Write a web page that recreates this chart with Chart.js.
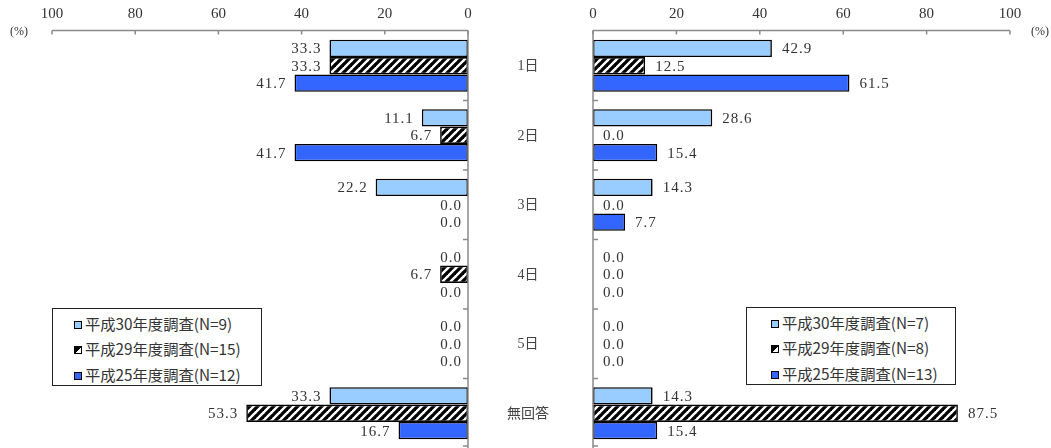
<!DOCTYPE html>
<html>
<head>
<meta charset="utf-8">
<script src="https://cdn.jsdelivr.net/npm/chart.js@4.4.1/dist/chart.umd.min.js"></script>
<style>
  html, body { margin: 0; padding: 0; background: #fff; }
  #wrap { position: relative; width: 1051px; height: 448px; overflow: hidden; }
  canvas { position: absolute; top: 0; }
  #cL { left: 0; }
  #cR { left: 480px; }
  .legend { position: absolute; background: #fff; border: 1px solid #222; box-sizing: border-box;
            font-family: "Noto Sans CJK JP", sans-serif; font-size: 15.3px; color: #333; }
  .legend .row { position: absolute; height: 20px; line-height: 20px; white-space: nowrap; }
  .legend .mk { display: inline-block; width: 6px; height: 6px; border: 1.5px solid #000; margin-right: 3px; vertical-align: 1px; }
</style>
</head>
<body>
<div id="wrap">
  <canvas id="cL" width="480" height="448"></canvas>
  <canvas id="cR" width="571" height="448"></canvas>
  <div class="legend" id="legL" style="left:52px; top:308px; width:210px; height:78px;"></div>
  <div class="legend" id="legR" style="left:746px; top:307px; width:210px; height:78px;"></div>
</div>
<script>
// ---- data ----
const categories = ["1日", "2日", "3日", "4日", "5日", "無回答"];
const xTicks = [0, 20, 40, 60, 80, 100];

const leftSeriesNames = ["平成30年度調査(N=9)", "平成29年度調査(N=15)", "平成25年度調査(N=12)"];
const leftH30 = [33.3, 11.1, 22.2, 0.0, 0.0, 33.3];
const leftH29 = [33.3, 6.7, 0.0, 6.7, 0.0, 53.3];
const leftH25 = [41.7, 41.7, 0.0, 0.0, 0.0, 16.7];

const rightSeriesNames = ["平成30年度調査(N=7)", "平成29年度調査(N=8)", "平成25年度調査(N=13)"];
const rightH30 = [42.9, 28.6, 14.3, 0.0, 0.0, 14.3];
const rightH29 = [12.5, 0.0, 0.0, 0.0, 0.0, 87.5];
const rightH25 = [61.5, 15.4, 7.7, 0.0, 0.0, 15.4];

// ---- styles ----
const LIGHT = "#99CCFF";
const BLUE = "#3366FF";
const SERIF = '"Liberation Serif", "DejaVu Serif", serif';
const TEXT = "#333";

function hatch() {
  const c = document.createElement("canvas");
  c.width = 8; c.height = 8;
  const g = c.getContext("2d");
  g.fillStyle = "#fff"; g.fillRect(0, 0, 8, 8);
  g.strokeStyle = "#000"; g.lineWidth = 3.3;
  for (let k = -1; k <= 1; k++) {
    g.beginPath(); g.moveTo(k * 8 - 1, 9); g.lineTo(k * 8 + 9, -1); g.stroke();
  }
  return g.createPattern(c, "repeat");
}

function datasets(names, a, b, c, pat) {
  const common = { borderColor: "#000", borderWidth: 1.6, borderSkipped: false,
                   categoryPercentage: 0.75, barPercentage: 1.0 };
  return [
    Object.assign({ label: names[0], data: a, backgroundColor: LIGHT }, common),
    Object.assign({ label: names[1], data: b, backgroundColor: pat }, common),
    Object.assign({ label: names[2], data: c, backgroundColor: BLUE }, common)
  ];
}

const axisPlugin = {
  id: "axisPlugin",
  afterDatasetsDraw(chart, args, opts) {
    const ctx = chart.ctx;
    const xs = chart.scales.x, ys = chart.scales.y;
    const ca = chart.chartArea;
    const top = ca.top - 0.5;
    ctx.save();
    ctx.strokeStyle = "#8a8a8a";
    ctx.lineWidth = 1.5;
    // horizontal axis line
    ctx.beginPath();
    ctx.moveTo(xs.getPixelForValue(0), top);
    ctx.lineTo(xs.getPixelForValue(100), top);
    ctx.stroke();
    // tick marks (downward)
    xTicks.forEach(v => {
      const x = xs.getPixelForValue(v);
      ctx.beginPath(); ctx.moveTo(x, top); ctx.lineTo(x, top + 4); ctx.stroke();
    });
    // vertical axis at zero
    const x0 = xs.getPixelForValue(0);
    ctx.beginPath(); ctx.moveTo(x0, top); ctx.lineTo(x0, ca.bottom); ctx.stroke();
    // category boundary ticks (inward)
    const dir = opts.side === "left" ? -1 : 1;
    for (let i = 1; i <= categories.length; i++) {
      const y = i < categories.length
        ? (ys.getPixelForValue(i - 1) + ys.getPixelForValue(i)) / 2
        : ca.bottom - 2;
      ctx.beginPath(); ctx.moveTo(x0, y); ctx.lineTo(x0 + dir * 5, y); ctx.stroke();
    }
    // value labels
    ctx.fillStyle = TEXT;
    ctx.font = "15px " + SERIF;
    ctx.letterSpacing = "1px";
    ctx.textBaseline = "middle";
    chart.data.datasets.forEach((ds, di) => {
      const meta = chart.getDatasetMeta(di);
      meta.data.forEach((el, j) => {
        const txt = Number(ds.data[j]).toFixed(1);
        if (opts.side === "left") {
          ctx.textAlign = "right";
          ctx.fillText(txt, el.x - (ds.data[j] === 0 ? 6 : 8), el.y + 1);
        } else {
          ctx.textAlign = "left";
          ctx.fillText(txt, el.x + 10, el.y + 1);
        }
      });
    });
    ctx.letterSpacing = "0px";
    // category labels (right chart, between the two charts)
    if (opts.side === "right") {
      ctx.font = '14px "Liberation Serif", "Noto Sans CJK JP", serif';
      ctx.fillStyle = "#444";
      ctx.textAlign = "center";
      categories.forEach((c, i) => {
        ctx.fillText(c, 528 - 480, ys.getPixelForValue(i) + 1);
      });
    }
    // (%) unit label
    ctx.fillStyle = TEXT;
    ctx.font = "12px " + SERIF;
    ctx.textAlign = "center";
    if (opts.side === "left") ctx.fillText("(%)", 19, 32);
    else ctx.fillText("(%)", 1040 - 480, 32);
    ctx.restore();
  }
};

function xScale(reverse) {
  return {
    type: "linear", min: 0, max: 100, reverse: reverse, position: "top",
    ticks: { stepSize: 20, color: TEXT, font: { family: SERIF, size: 15 }, padding: 8 },
    grid: { display: false, drawTicks: false },
    border: { display: false },
    afterFit: s => { s.height = 31; }
  };
}

const pat = hatch();

new Chart(document.getElementById("cL"), {
  type: "bar",
  data: { labels: categories, datasets: datasets(leftSeriesNames, leftH30, leftH29, leftH25, pat) },
  options: {
    responsive: false, animation: false, indexAxis: "y",
    layout: { padding: { left: 52, right: 0, top: 0, bottom: 0 } },
    plugins: { legend: { display: false }, tooltip: { enabled: false }, axisPlugin: { side: "left" } },
    scales: {
      x: xScale(true),
      y: {
        type: "category", position: "right",
        ticks: { display: false },
        grid: { display: false, drawTicks: false },
        border: { display: false },
        afterFit: s => { s.width = 12; }
      }
    }
  },
  plugins: [axisPlugin]
});

new Chart(document.getElementById("cR"), {
  type: "bar",
  data: { labels: categories, datasets: datasets(rightSeriesNames, rightH30, rightH29, rightH25, pat) },
  options: {
    responsive: false, animation: false, indexAxis: "y",
    layout: { padding: { left: 0, right: 41, top: 0, bottom: 0 } },
    plugins: { legend: { display: false }, tooltip: { enabled: false }, axisPlugin: { side: "right" } },
    scales: {
      x: xScale(false),
      y: {
        type: "category", position: "left",
        ticks: { display: false },
        grid: { display: false, drawTicks: false },
        border: { display: false },
        afterFit: s => { s.width = 113; }
      }
    }
  },
  plugins: [axisPlugin]
});

// ---- legends (HTML text) ----
function buildLegend(id, names, markerLeft) {
  const el = document.getElementById(id);
  const marks = [
    "background:" + LIGHT,
    "background:linear-gradient(135deg, #000 55%, #fff 55%)",
    "background:" + BLUE
  ];
  const tops = [4, 29, 55];
  names.forEach((n, i) => {
    const r = document.createElement("div");
    r.className = "row";
    r.style.left = markerLeft + "px";
    r.style.top = tops[i] + "px";
    r.innerHTML = '<span class="mk" style="' + marks[i] + '"></span>' + n;
    el.appendChild(r);
  });
}
buildLegend("legL", leftSeriesNames, 21);
buildLegend("legR", rightSeriesNames, 24);
</script>
</body>
</html>
